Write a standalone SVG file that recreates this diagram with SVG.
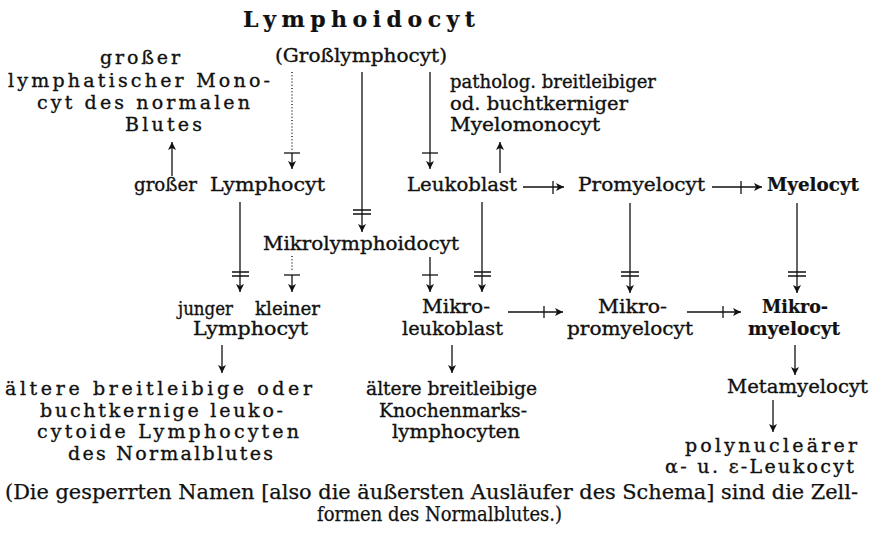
<svg xmlns="http://www.w3.org/2000/svg" width="874" height="534" viewBox="0 0 874 534">
<style>
.t{font-family:"DejaVu Serif","Liberation Serif",serif;font-size:19px;fill:#111;stroke:#111;stroke-width:0.35}
.g{font-size:19px}
.b{font-weight:bold;stroke-width:0.2}
.ttl{font-size:22px;font-weight:bold;stroke-width:0.2}
.f{font-family:"DejaVu Serif","Liberation Serif",serif;font-stretch:condensed;font-size:20px;fill:#111;stroke:#111;stroke-width:0.25}
.ln{stroke:#111;stroke-width:1.3;fill:none}
.ar{marker-end:url(#ah)}
.dot{stroke-dasharray:1 2.2}
</style>
<defs>
<marker id="ah" viewBox="-9 -5 10 10" refX="0" refY="0" markerWidth="10" markerHeight="10" markerUnits="userSpaceOnUse" orient="auto">
<path d="M0,0 L-8,-4 L-6,0 L-8,4 Z" fill="#111"/>
</marker>
</defs>
<rect width="874" height="534" fill="#fff"/>
<g id="connectors">
<path class="ln dot" d="M292,72 V150"/>
<path class="ln" d="M284,153 H300"/>
<path class="ln ar" d="M292,153 V169"/>
<path class="ln ar" d="M362,72 V232"/>
<path class="ln" d="M353,210 H371 M353,214 H371"/>
<path class="ln ar" d="M430,72 V169"/>
<path class="ln" d="M422,153 H438"/>
<path class="ln ar" d="M500,173 V142"/>
<path class="ln ar" d="M172,176 V142"/>
<path class="ln ar" d="M523,187 H564"/>
<path class="ln" d="M553,181 V194"/>
<path class="ln ar" d="M712,187 H762"/>
<path class="ln" d="M741,181 V194"/>
<path class="ln ar" d="M630,203 V293"/>
<path class="ln" d="M621,272 H639 M621,276 H639"/>
<path class="ln ar" d="M797,203 V293"/>
<path class="ln" d="M788,272 H806 M788,276 H806"/>
<path class="ln ar" d="M240,202 V292"/>
<path class="ln" d="M232,272 H249 M232,276 H249"/>
<path class="ln dot" d="M292,256 V270"/>
<path class="ln" d="M284,275 H300"/>
<path class="ln ar" d="M292,275 V292"/>
<path class="ln ar" d="M430,257 V292"/>
<path class="ln" d="M422,275 H438"/>
<path class="ln ar" d="M482,202 V292"/>
<path class="ln" d="M474,272 H491 M474,276 H491"/>
<path class="ln ar" d="M508,312 H563"/>
<path class="ln" d="M544,306 V318"/>
<path class="ln ar" d="M687,312 H741"/>
<path class="ln" d="M723,306 V318"/>
<path class="ln ar" d="M795,345 V375"/>
<path class="ln ar" d="M773,400 V432"/>
<path class="ln ar" d="M222,345 V373"/>
<path class="ln ar" d="M452,345 V373"/>
</g>
<g id="lymphoidocyt">
<text class="t ttl" x="243" y="27" textLength="232" lengthAdjust="spacing">Lymphoidocyt</text>
<text class="t" x="275" y="62" textLength="172" lengthAdjust="spacingAndGlyphs">(Großlymphocyt)</text>
</g>
<g id="monocyt">
<text class="t g" x="100" y="64" textLength="80" lengthAdjust="spacing">großer</text>
<text class="t g" x="8" y="87" textLength="262" lengthAdjust="spacing">lymphatischer Mono-</text>
<text class="t g" x="37" y="109" textLength="213" lengthAdjust="spacing">cyt des normalen</text>
<text class="t g" x="125" y="131" textLength="77" lengthAdjust="spacing">Blutes</text>
</g>
<g id="myelomonocyt">
<text class="t" x="450" y="88" textLength="206" lengthAdjust="spacingAndGlyphs">patholog. breitleibiger</text>
<text class="t" x="450" y="110" textLength="178" lengthAdjust="spacingAndGlyphs">od. buchtkerniger</text>
<text class="t" x="450" y="131" textLength="150" lengthAdjust="spacingAndGlyphs">Myelomonocyt</text>
</g>
<g id="grosser-lymphocyt">
<text class="t" x="134" y="191" textLength="63" lengthAdjust="spacingAndGlyphs">großer</text>
<text class="t" x="210" y="191" textLength="115" lengthAdjust="spacingAndGlyphs">Lymphocyt</text>
</g>
<g id="leukoblast">
<text class="t" x="407" y="191" textLength="110" lengthAdjust="spacingAndGlyphs">Leukoblast</text>
</g>
<g id="promyelocyt">
<text class="t" x="578" y="191" textLength="127" lengthAdjust="spacingAndGlyphs">Promyelocyt</text>
</g>
<g id="myelocyt">
<text class="t b" x="767" y="191" textLength="92" lengthAdjust="spacingAndGlyphs">Myelocyt</text>
</g>
<g id="mikrolymphoidocyt">
<text class="t" x="263" y="250" textLength="196" lengthAdjust="spacingAndGlyphs">Mikrolymphoidocyt</text>
</g>
<g id="junger-kleiner-lymphocyt">
<text class="t" x="178" y="315" textLength="55" lengthAdjust="spacingAndGlyphs">junger</text>
<text class="t" x="255" y="315" textLength="65" lengthAdjust="spacingAndGlyphs">kleiner</text>
<text class="t" x="193" y="335" textLength="115" lengthAdjust="spacingAndGlyphs">Lymphocyt</text>
</g>
<g id="mikroleukoblast">
<text class="t" x="422" y="313" textLength="68" lengthAdjust="spacingAndGlyphs">Mikro-</text>
<text class="t" x="402" y="335" textLength="101" lengthAdjust="spacingAndGlyphs">leukoblast</text>
</g>
<g id="mikropromyelocyt">
<text class="t" x="598" y="313" textLength="69" lengthAdjust="spacingAndGlyphs">Mikro-</text>
<text class="t" x="567" y="335" textLength="126" lengthAdjust="spacingAndGlyphs">promyelocyt</text>
</g>
<g id="mikromyelocyt">
<text class="t b" x="762" y="313" textLength="66" lengthAdjust="spacingAndGlyphs">Mikro-</text>
<text class="t b" x="748" y="335" textLength="92" lengthAdjust="spacingAndGlyphs">myelocyt</text>
</g>
<g id="metamyelocyt">
<text class="t" x="727" y="393" textLength="141" lengthAdjust="spacingAndGlyphs">Metamyelocyt</text>
</g>
<g id="polynuclearer">
<text class="t g" x="685" y="452" textLength="172" lengthAdjust="spacing">polynucleärer</text>
<text class="t g" x="665" y="473" textLength="189" lengthAdjust="spacing">α- u. ε-Leukocyt</text>
</g>
<g id="aeltere-lymphocyten">
<text class="t g" x="5" y="395" textLength="307" lengthAdjust="spacing">ältere breitleibige oder</text>
<text class="t g" x="40" y="417" textLength="243" lengthAdjust="spacing">buchtkernige leuko-</text>
<text class="t g" x="37" y="438" textLength="262" lengthAdjust="spacing">cytoide Lymphocyten</text>
<text class="t g" x="68" y="460" textLength="205" lengthAdjust="spacing">des Normalblutes</text>
</g>
<g id="knochenmarkslymphocyten">
<text class="t" x="366" y="395" textLength="171" lengthAdjust="spacingAndGlyphs">ältere breitleibige</text>
<text class="t" x="379" y="417" textLength="148" lengthAdjust="spacingAndGlyphs">Knochenmarks-</text>
<text class="t" x="392" y="438" textLength="128" lengthAdjust="spacingAndGlyphs">lymphocyten</text>
</g>
<g id="footer">
<text class="f" x="5" y="499" textLength="853" lengthAdjust="spacingAndGlyphs">(Die gesperrten Namen [also die äußersten Ausläufer des Schema] sind die Zell-</text>
<text class="f" x="317" y="521" textLength="245" lengthAdjust="spacingAndGlyphs">formen des Normalblutes.)</text>
</g>
</svg>
